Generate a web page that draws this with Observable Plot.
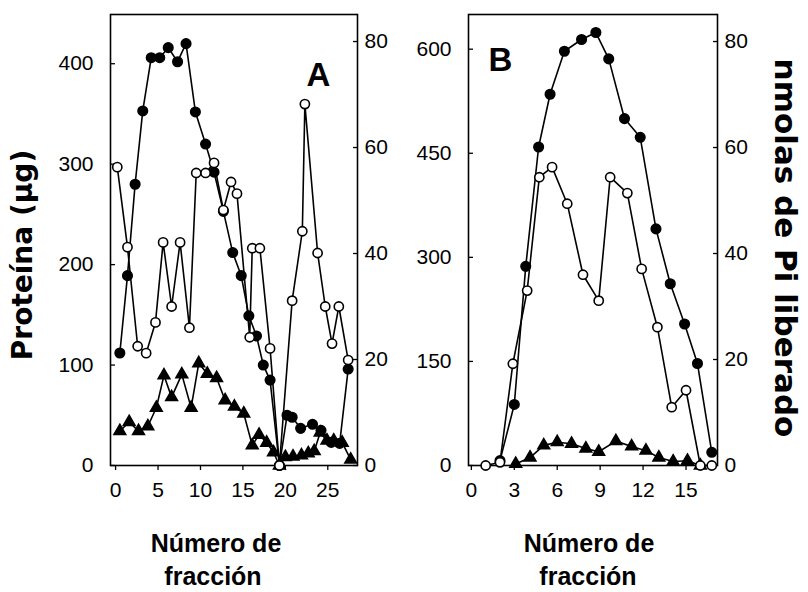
<!DOCTYPE html>
<html><head><meta charset="utf-8">
<script src="https://cdn.jsdelivr.net/npm/d3@7"></script>
<script src="https://cdn.jsdelivr.net/npm/@observablehq/plot@0.6"></script>
<style>
body{margin:0;background:#fff;}
#wrap{position:relative;width:808px;height:592px;overflow:hidden;background:#fff;}
.layer{position:absolute;top:0;}
.lbl{position:absolute;font-weight:bold;color:#000;white-space:nowrap;line-height:1;}
</style></head><body><div id="wrap"></div>
<script>
// ---------- Panel A ----------
const aTicksX = [0, 5, 10, 15, 20, 25];
const aTicksLeft = [0, 100, 200, 300, 400];
const aTicksRight = [0, 20, 40, 60, 80];
// filled circles (left axis, µg protein)
const aFilledX = [0.5,1.4,2.3,3.2,4.2,5.2,6.2,7.3,8.3,9.4,10.6,11.6,12.7,13.8,14.8,15.7,16.6,17.4,18.2,19.3,20.2,20.8,21.8,23.2,24.2,25.4,26.4,27.4];
const aFilledY = [112,189,280,353,406,406,416,402,420,352,320,292,253,212,189,149,129,100,85,0,50,48,37,41,35,23,22,96];
// open circles (right axis, nmol Pi)
const aOpenX = [0.2,1.4,2.6,3.6,4.7,5.6,6.6,7.6,8.7,9.5,10.6,11.6,12.7,13.6,14.3,15.8,16.1,17.0,18.2,19.3,20.8,22.0,22.3,23.8,24.7,25.5,26.3,27.4];
const aOpenY = [56.3,41.2,22.5,21.2,27.0,42.1,30.0,42.1,26.0,55.2,55.2,57.1,48.2,53.5,51.3,24.2,41.0,41.0,22.1,0,31.1,44.2,68.2,40.1,30.0,23.0,30.0,19.9];
// triangles (right axis)
const aTriX = [0.5,1.6,2.7,3.8,4.8,5.7,6.6,7.8,8.9,9.8,10.8,11.9,12.9,14.0,15.1,16.1,16.9,17.8,18.6,19.3,20.0,20.9,21.9,22.7,23.4,24.1,24.9,25.7,26.7,27.7];
const aTriY = [6.5,8.2,6.5,7.4,10.9,17.0,12.9,17.2,10.9,19.3,17.3,16.5,12.3,11.1,9.8,3.8,5.8,4.3,2.5,0,1.6,1.7,1.9,2.3,2.7,6.2,4.7,4.7,4.3,1.1];

// ---------- Panel B ----------
const bTicksX = [0, 3, 6, 9, 12, 15];
const bTicksLeft = [0, 150, 300, 450, 600];
const bTicksRight = [0, 20, 40, 60, 80];
const bFilledX = [2.0,3.0,3.8,4.7,5.5,6.5,7.7,8.7,9.6,10.7,11.8,12.9,13.9,14.9,15.8,16.8];
const bFilledY = [7,88,287,459,535,597,614,624,586,500,473,341,262,204,147,19];
const bOpenX = [1.0,2.0,2.9,3.9,4.75,5.64,6.7,7.8,8.9,9.7,10.9,11.9,13.0,14.0,15.0,16.0,16.8];
const bOpenY = [0,0.6,19.2,33,54.4,56.3,49.4,36,31.1,54.4,51.4,37.1,26.1,11.0,14.2,0,0];
const bTriX = [3.1,4.1,5.06,6.0,7.0,8.0,8.9,10.1,11.2,12.2,13.1,14.1,15.1,16.0];
const bTriY = [0.3,1.5,3.8,4.4,4.1,3.2,2.6,4.6,3.6,2.8,1.5,0.75,0.9,0];

const zip = (xs, ys) => xs.map((x, i) => ({x, y: ys[i]}));

const wrap = document.getElementById("wrap");
const tickFont = '"Liberation Sans", Arial, sans-serif';
const narrowFont = '"Liberation Sans Narrow", "Arial Narrow", "Liberation Sans", sans-serif';
const common = {height: 510, marginTop: 14, marginBottom: 45, marginLeft: 70, marginRight: 50};
const styleObj = {background: "transparent", fontFamily: tickFont, fontSize: "21px", color: "#000", overflow: "visible"};

function place(svg, left) {
  svg.classList.add("layer");
  svg.style.left = left + "px";
  wrap.appendChild(svg);
}

function panel({left, width, xDomain, yLeftDomain, yRightDomain, ticksX, ticksLeft, ticksRight, leftFont, filled, open, tri, letter, letterAnchor, letterDx, letterDy}) {
  const leftPlot = Plot.plot({
    ...common, width, style: styleObj,
    x: {domain: xDomain, axis: null},
    y: {domain: yLeftDomain, axis: null},
    marks: [
      Plot.frame({stroke: "#000", strokeWidth: 1.6}),
      Plot.axisX({ticks: ticksX, tickSize: 5, tickPadding: 12, strokeWidth: 1.3, label: null}),
      Plot.axisY({ticks: ticksLeft, tickSize: -5, tickPadding: 22, strokeWidth: 1.3, label: null, fontFamily: leftFont}),
      Plot.line(filled, {x: "x", y: "y", stroke: "#000", strokeWidth: 1.6}),
      Plot.dot(filled, {x: "x", y: "y", r: 4.8, fill: "#000", stroke: "#000"}),
      Plot.text([letter], {frameAnchor: letterAnchor, dx: letterDx, dy: letterDy, textAnchor: "middle", lineAnchor: "middle",
        fontSize: 33, fontWeight: "bold", fontFamily: '"Liberation Sans", Arial, sans-serif'})
    ]
  });
  place(leftPlot, left);
  const rightPlot = Plot.plot({
    ...common, width, style: styleObj,
    x: {domain: xDomain, axis: null},
    y: {domain: yRightDomain, axis: null},
    marks: [
      Plot.axisY({anchor: "right", ticks: ticksRight, tickSize: -5, tickPadding: 12, strokeWidth: 1.3, label: null}),
      Plot.line(tri, {x: "x", y: "y", stroke: "#000", strokeWidth: 1.6}),
      Plot.dot(tri, {x: "x", y: "y", symbol: "triangle", r: 4.4, fill: "#000", stroke: "#000"}),
      Plot.line(open, {x: "x", y: "y", stroke: "#000", strokeWidth: 1.6}),
      Plot.dot(open, {x: "x", y: "y", r: 4.6, fill: "#fff", stroke: "#000", strokeWidth: 1.6})
    ]
  });
  place(rightPlot, left);
}

panel({left: 40, width: 367, xDomain: [-0.6, 28.5], yLeftDomain: [0, 449], yRightDomain: [0, 85.1],
  ticksX: aTicksX, ticksLeft: aTicksLeft, ticksRight: aTicksRight, leftFont: narrowFont,
  filled: zip(aFilledX, aFilledY), open: zip(aOpenX, aOpenY), tri: zip(aTriX, aTriY),
  letter: "A", letterAnchor: "top-right", letterDx: -39, letterDy: 61});

panel({left: 398, width: 369, xDomain: [-0.2, 17.2], yLeftDomain: [0, 650], yRightDomain: [0, 85.1],
  ticksX: bTicksX, ticksLeft: bTicksLeft, ticksRight: bTicksRight, leftFont: tickFont,
  filled: zip(bFilledX, bFilledY), open: zip(bOpenX, bOpenY), tri: zip(bTriX, bTriY),
  letter: "B", letterAnchor: "top-left", letterDx: 32, letterDy: 46});

function label(text, x, y, size, rot, family) {
  const d = document.createElement("div");
  d.className = "lbl";
  d.textContent = text;
  d.style.fontFamily = family;
  d.style.fontSize = size + "px";
  d.style.left = x + "px";
  d.style.top = y + "px";
  d.style.transform = `translate(-50%,-50%) rotate(${rot}deg)`;
  wrap.appendChild(d);
}
const dv = '"DejaVu Sans", sans-serif';
const lib = '"Liberation Sans", Arial, sans-serif';
label("Proteína (µg)", 23, 255, 28, -90, dv);
label("nmolas de Pi liberado", 785, 248, 31, 90, dv);
label("Número de", 216, 543, 25, 0, lib);
label("fracción", 213, 576, 25, 0, lib);
label("Número de", 589, 543, 25, 0, lib);
label("fracción", 588, 576, 25, 0, lib);
</script>
</body></html>
